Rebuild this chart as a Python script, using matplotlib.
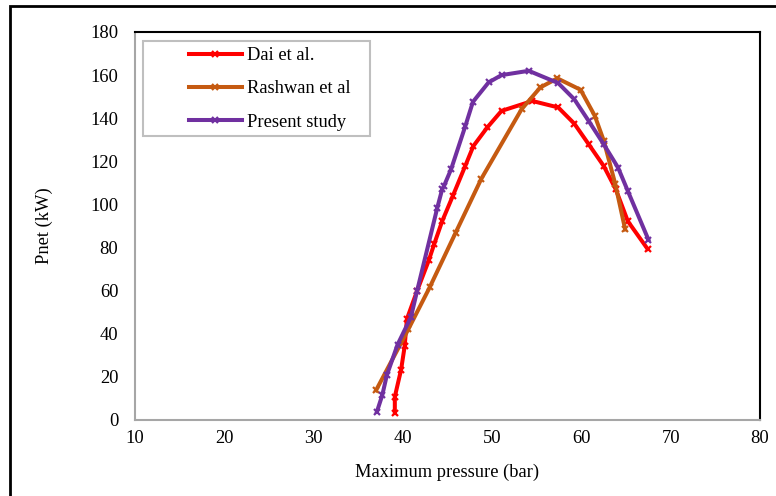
import matplotlib
matplotlib.use("Agg")
import matplotlib.pyplot as plt
from matplotlib.patches import Rectangle

dai_x = [39.1, 39.1, 39.8, 40.2, 40.45, 41.6, 42.9, 43.5, 44.4, 45.6, 47.0, 47.9, 49.45, 51.05, 54.5, 57.4, 59.2, 60.8, 62.5, 63.85, 65.2, 67.4]
dai_y = [3.2, 10.8, 23.3, 34.1, 46.8, 60.0, 74.0, 81.5, 92.2, 104.0, 118.0, 127.1, 135.7, 143.4, 148.0, 145.0, 137.5, 128.0, 117.8, 107.0, 92.2, 79.4]

rash_x = [37.0, 40.6, 43.0, 45.9, 48.8, 53.3, 55.4, 57.3, 59.9, 61.5, 62.5, 63.8, 64.9]
rash_y = [13.8, 42.0, 61.5, 86.8, 112.0, 144.2, 154.3, 158.5, 153.2, 141.1, 129.6, 109.3, 88.4]

pres_x = [37.1, 37.7, 38.2, 39.4, 40.9, 41.6, 43.86, 44.4, 44.6, 45.4, 47.0, 47.85, 49.6, 51.05, 54.1, 57.4, 59.2, 60.8, 62.5, 64.1, 65.2, 67.5]
pres_y = [3.9, 11.6, 20.7, 34.9, 47.7, 60.0, 98.5, 107.0, 108.5, 116.3, 136.4, 147.6, 156.6, 160.0, 162.0, 156.3, 148.8, 138.8, 127.9, 117.1, 106.2, 83.7]

labels = ["Dai et al.", "Rashwan et al", "Present study"]
colors = ["#FF0000", "#C55A11", "#7030A0"]

plt.rcParams['font.family'] = ['Liberation Serif', 'DejaVu Serif']
FS = 13.3

fig = plt.figure(figsize=(7.76, 4.96), dpi=100)
ax = fig.add_axes([135/776, 1-420/496, (760-135)/776, (420-32)/496])

for xs, ys, lab, c in zip([dai_x, rash_x, pres_x], [dai_y, rash_y, pres_y], labels, colors):
    ax.plot(xs, ys, color=c, lw=2.9, marker='x', ms=5, mew=1.6, label=lab)

ax.set_xlim(10, 80)
ax.set_ylim(0, 180)
ax.set_xticks(range(10, 81, 10))
ax.set_yticks(range(0, 181, 20))
ax.tick_params(length=0, labelsize=FS)
ax.tick_params(axis='x', pad=7)
ax.tick_params(axis='y', pad=12)
for s in ['left', 'bottom']:
    ax.spines[s].set_color('#A6A6A6')
    ax.spines[s].set_linewidth(1.5)
for s in ['top', 'right']:
    ax.spines[s].set_color('black')
    ax.spines[s].set_linewidth(1.5)

ax.set_xlabel("Maximum pressure (bar)", fontsize=FS, labelpad=12)
ax.set_ylabel("Pnet (kW)", fontsize=FS, labelpad=27)

# legend box
ax.add_patch(Rectangle((8/625, (420-136)/388), (370-143)/625, (136-41)/388,
                       transform=ax.transAxes, fill=True, facecolor='white',
                       edgecolor='#BFBFBF', lw=1.5, zorder=4))
leg = ax.legend(loc='upper left', bbox_to_anchor=((189-135)/625, (420-47)/388),
                fontsize=FS, frameon=False, handlelength=2.85, borderpad=0,
                labelspacing=0.88, borderaxespad=0, handletextpad=0.28)
leg.set_zorder(5)

# Outer figure border
fig.patches.append(Rectangle((10/776, -0.05), 1.1, 1 - 6/496 + 0.05,
                             transform=fig.transFigure, fill=False,
                             edgecolor='black', lw=2, zorder=0))

fig.savefig("out.png", dpi=100)
